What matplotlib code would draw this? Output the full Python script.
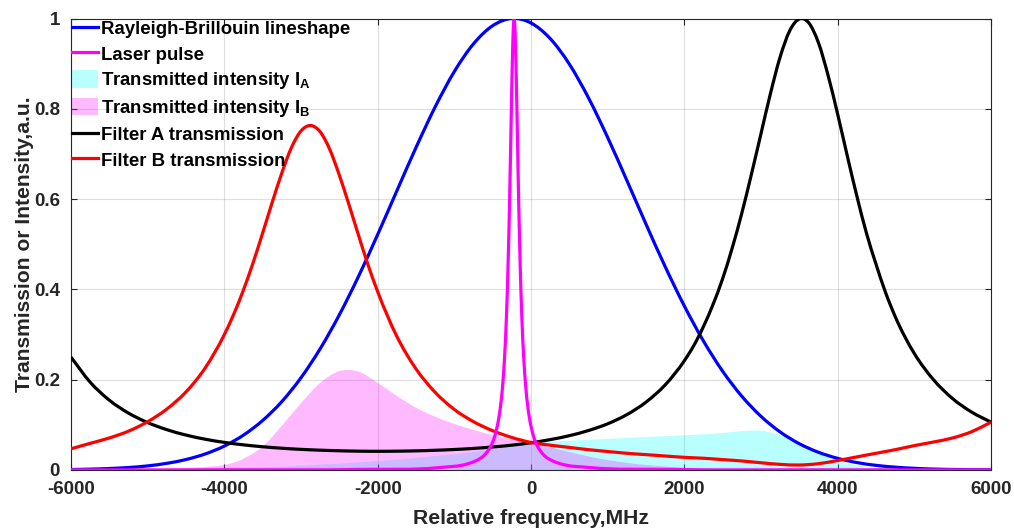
import numpy as np
import matplotlib.pyplot as plt
from matplotlib.path import Path
from matplotlib.patches import Patch, PathPatch
from matplotlib.lines import Line2D

# Rayleigh-Brillouin lineshape (blue), read every 250 MHz
f_rb = np.arange(-6000, 6001, 250)
rb = [0.001, 0.0019, 0.0033, 0.0055, 0.0091, 0.0148, 0.0232, 0.0355, 0.053, 0.0773,
      0.1097, 0.1516, 0.2044, 0.2685, 0.3437, 0.4288, 0.5215, 0.6182, 0.7142, 0.8042,
      0.8825, 0.9439, 0.984, 1.0, 0.990, 0.9556, 0.899, 0.8242, 0.7365, 0.6415,
      0.5445, 0.4505, 0.3633, 0.2855, 0.2187, 0.1633, 0.1188, 0.0842, 0.0582, 0.0392,
      0.0258, 0.0165, 0.0103, 0.0063, 0.0037, 0.0021, 0.0012, 0.0007, 0.0004]

# Laser pulse (magenta)
f_laser = [-6000, -4000, -2200, -1200, -820, -720, -620, -570, -520, -470, -420, -395,
           -370, -345, -320, -295, -282, -270, -257, -245, -232, -220, -208, -195, -183,
           -170, -158, -145, -120, -95, -70, -45, -20, 30, 80, 130, 180, 280, 380, 780,
           1780, 3780, 6000]
laser = [0.0002, 0.0004, 0.0013, 0.0053, 0.014, 0.0203, 0.031, 0.0406, 0.054, 0.0766,
         0.115, 0.1447, 0.187, 0.249, 0.341, 0.48, 0.574, 0.675, 0.791, 0.892, 0.973, 1.0,
         0.973, 0.892, 0.791, 0.675, 0.574, 0.48, 0.341, 0.249, 0.187, 0.1447, 0.115,
         0.0766, 0.054, 0.0406, 0.031, 0.0203, 0.014, 0.0053, 0.0013, 0.0004, 0.0002]

# Filter A transmission (black)
f_a = [-6000, -5750, -5500, -5250, -5000, -4750, -4500, -4250, -4000, -3750, -3500,
       -3250, -3000, -2750, -2500, -2250, -2000, -1750, -1500, -1250, -1000, -750, -500,
       -250, 0, 250, 500, 750, 1000, 1250, 1500, 1750, 2000, 2125, 2250, 2375, 2500,
       2625, 2750, 2875, 3000, 3125, 3250, 3375, 3500, 3625, 3750, 3875, 4000, 4125,
       4250, 4375, 4500, 4625, 4750, 5000, 5250, 5500, 5750, 6000]
filt_a = [0.250, 0.1945, 0.1546, 0.126, 0.105, 0.0893, 0.0774, 0.0682, 0.0612, 0.0557,
          0.0515, 0.0482, 0.0457, 0.0439, 0.0426, 0.0417, 0.0414, 0.0417, 0.0424, 0.0437,
          0.0454, 0.0478, 0.051, 0.055, 0.0604, 0.0673, 0.076, 0.0875, 0.1023, 0.1226,
          0.1503, 0.1885, 0.242, 0.276, 0.318, 0.367, 0.424, 0.492, 0.569, 0.655, 0.745,
          0.835, 0.915, 0.973, 0.999, 0.990, 0.946, 0.874, 0.788, 0.696, 0.607, 0.525,
          0.456, 0.393, 0.340, 0.258, 0.200, 0.158, 0.128, 0.106]

# Filter B transmission (red)
f_b = [-6000, -5750, -5500, -5250, -5000, -4750, -4500, -4250, -4000, -3875, -3750,
       -3625, -3500, -3375, -3250, -3125, -3000, -2875, -2750, -2625, -2500, -2375,
       -2250, -2125, -2000, -1750, -1500, -1250, -1000, -750, -500, -250, 0, 250, 500,
       750, 1000, 1250, 1500, 1750, 2000, 2250, 2500, 2750, 3000, 3250, 3500, 3750,
       4000, 4250, 4500, 4750, 5000, 5250, 5500, 5750, 6000]
filt_b = [0.047, 0.059, 0.071, 0.086, 0.107, 0.135, 0.173, 0.226, 0.300, 0.346, 0.399,
          0.459, 0.525, 0.593, 0.658, 0.714, 0.751, 0.763, 0.749, 0.710, 0.653, 0.588,
          0.520, 0.454, 0.395, 0.296, 0.224, 0.172, 0.134, 0.107, 0.087, 0.072, 0.061,
          0.055, 0.050, 0.045, 0.041, 0.037, 0.034, 0.031, 0.028, 0.026, 0.023, 0.020,
          0.016, 0.0125, 0.011, 0.014, 0.021, 0.029, 0.037, 0.045, 0.054, 0.062, 0.071,
          0.085, 0.106]

# Transmitted intensities (filled areas), every 250 MHz
f_t = np.arange(-6000, 6001, 250)
i_a = [0.0003, 0.0004, 0.0005, 0.0007, 0.001, 0.0014, 0.002, 0.0026, 0.0035, 0.0046,
       0.006, 0.0077, 0.0095, 0.012, 0.014, 0.017, 0.020, 0.023, 0.027, 0.031, 0.035,
       0.040, 0.046, 0.053, 0.060, 0.063, 0.065, 0.067, 0.069, 0.071, 0.073, 0.075,
       0.077, 0.079, 0.082, 0.086, 0.087, 0.077, 0.058, 0.037, 0.020, 0.010, 0.0046,
       0.0021, 0.0009, 0.0004, 0.0002, 0.0001, 0.0]
i_b = [0.0, 0.0002, 0.0005, 0.0007, 0.001, 0.002, 0.004, 0.007, 0.011, 0.025, 0.052,
       0.098, 0.148, 0.193, 0.219, 0.218, 0.193, 0.164, 0.138, 0.118, 0.102, 0.089,
       0.077, 0.068, 0.060, 0.050, 0.040, 0.030, 0.022, 0.016, 0.011, 0.008, 0.005,
       0.004, 0.002, 0.0015, 0.001, 0.0007, 0.0005, 0.0003, 0.0002, 0.0001, 0.0, 0.0,
       0.0, 0.0, 0.0, 0.0, 0.0]


def smooth_path(x, y, close=False):
    # cubic Bezier segments through the read points (like a smooth line plot)
    x = np.asarray(x, float)
    y = np.asarray(y, float)
    m = np.gradient(y, x)
    verts = [(x[0], y[0])]
    codes = [Path.MOVETO]
    for i in range(len(x) - 1):
        h = x[i + 1] - x[i]
        verts += [(x[i] + h / 3, y[i] + m[i] * h / 3),
                  (x[i + 1] - h / 3, y[i + 1] - m[i + 1] * h / 3),
                  (x[i + 1], y[i + 1])]
        codes += [Path.CURVE4] * 3
    if close:
        verts += [(x[-1], 0), (x[0], 0), (x[0], y[0])]
        codes += [Path.LINETO, Path.LINETO, Path.CLOSEPOLY]
    return Path(verts, codes)


plt.rcParams['font.family'] = ['Liberation Sans', 'DejaVu Sans']
plt.rcParams['font.weight'] = 'bold'
plt.rcParams['axes.unicode_minus'] = False
plt.rcParams['mathtext.fontset'] = 'custom'
plt.rcParams['mathtext.rm'] = 'Liberation Sans:bold'
plt.rcParams['mathtext.bf'] = 'Liberation Sans:bold'

dark = (0.15, 0.15, 0.15)
cyan = (0, 1, 1)
mag = (1, 0, 1)
lw = 2.3

fig = plt.figure(figsize=(10.14, 5.31), dpi=100)
ax = fig.add_axes([71 / 1014, 1 - 470 / 531, 920 / 1014, 451.5 / 531])

ax.add_patch(PathPatch(smooth_path(f_t, i_a, close=True), facecolor=cyan, alpha=0.27,
                       linewidth=0, zorder=1))
ax.add_patch(PathPatch(smooth_path(f_t, i_b, close=True), facecolor=mag, alpha=0.27,
                       linewidth=0, zorder=1))
for fx, fy, col, z in [(f_rb, rb, 'blue', 3), (f_a, filt_a, 'black', 3),
                       (f_b, filt_b, 'red', 3), (f_laser, laser, mag, 4)]:
    ax.add_patch(PathPatch(smooth_path(fx, fy), facecolor='none', edgecolor=col,
                           linewidth=lw, zorder=z))

ax.set_xlim(-6000, 6000)
ax.set_ylim(0, 1)
ax.set_xticks(np.arange(-6000, 6001, 2000))
ax.set_yticks([0, 0.2, 0.4, 0.6, 0.8, 1])
ax.set_yticklabels(['0', '0.2', '0.4', '0.6', '0.8', '1'])
ax.tick_params(direction='in', top=True, right=True, length=4, width=0.8,
               colors=dark, labelsize=13.5, pad=8)
for s in ax.spines.values():
    s.set_color(dark)
    s.set_linewidth(0.8)
ax.grid(True, color=dark, alpha=0.15, linewidth=0.8)
ax.set_axisbelow(True)

ax.set_xlabel('Relative frequency,MHz', fontsize=15.2, fontweight='bold', color=dark, labelpad=8)
ax.set_ylabel('Transmission or Intensity,a.u.', fontsize=15.2, fontweight='bold', color=dark,
              labelpad=0)

handles = [
    Line2D([], [], color='blue', lw=lw),
    Line2D([], [], color=mag, lw=lw),
    Patch(facecolor=cyan, alpha=0.27, linewidth=0),
    Patch(facecolor=mag, alpha=0.27, linewidth=0),
    Line2D([], [], color='black', lw=lw),
    Line2D([], [], color='red', lw=lw),
]
labels = ['Rayleigh-Brillouin lineshape', 'Laser pulse',
          r'Transmitted intensity I$_\mathregular{A}$',
          r'Transmitted intensity I$_\mathregular{B}$',
          'Filter A transmission', 'Filter B transmission']
leg = ax.legend(handles, labels, loc='upper left', bbox_to_anchor=(0, 1),
                frameon=False, fontsize=13.4, borderaxespad=0, borderpad=0.05,
                handlelength=1.4, handleheight=1.05, handletextpad=0.15,
                labelspacing=0.35)
for t in leg.get_texts():
    t.set_color('black')

fig.savefig('out.png', dpi=100)
